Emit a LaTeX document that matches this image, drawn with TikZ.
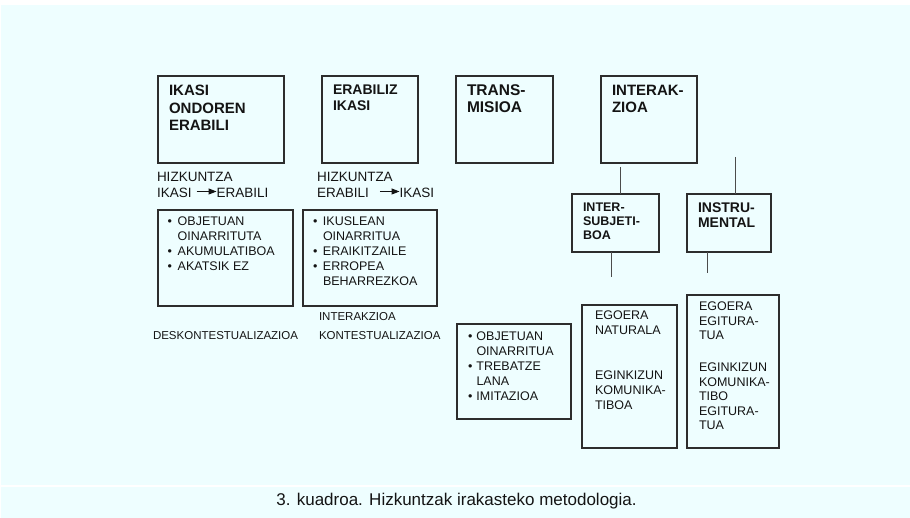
\documentclass[tikz,border=0pt]{standalone}
\usepackage{fontspec}
\setmainfont{Liberation Sans}
\usetikzlibrary{arrows.meta}
\definecolor{bgc}{RGB}{238,254,255}
\definecolor{lnc}{RGB}{45,45,45}
\definecolor{txc}{RGB}{20,20,20}
\newcommand{\bl}{\makebox[10pt][l]{•}}
\newcommand{\blb}{\makebox[8.5pt][l]{•}}
\newcommand{\ind}{\hspace*{10pt}}
\newcommand{\indb}{\hspace*{8.5pt}}
\begin{document}
\begin{tikzpicture}[x=1pt,y=-1pt,
  box/.style={draw=lnc,line width=1.1pt,anchor=north west,inner sep=0pt,outer sep=0pt},
  ttl/.style={anchor=north west,inner sep=0pt,outer sep=0pt,align=left,text=txc},
  lst/.style={anchor=north west,inner sep=0pt,outer sep=0pt,align=left,text=txc,font=\fontsize{12.5}{15}\selectfont},
  lbl/.style={anchor=base west,inner sep=0pt,outer sep=0pt,text=txc,font=\fontsize{13.5}{16}\selectfont},
  sml/.style={anchor=base west,inner sep=0pt,outer sep=0pt,text=txc,font=\fontsize{11.5}{14}\selectfont},
  conn/.style={draw=lnc!85,line width=1pt},
  arr/.style={draw=txc,line width=1pt,-{Triangle[length=8pt,width=6pt]}}]

\useasboundingbox (0,0) rectangle (910,518);
\fill[white] (0,0) rectangle (910,518);
\fill[bgc] (1,5) rectangle (910,518);
\draw[white,line width=1.2pt] (0,486) -- (910,486);

% top boxes
\node[box,minimum width=126pt,minimum height=87pt] (b1) at (158,76) {};
\node[box,minimum width=96pt,minimum height=87pt] (b2) at (322,76) {};
\node[box,minimum width=97pt,minimum height=87pt] (b3) at (456,76) {};
\node[box,minimum width=96pt,minimum height=87pt] (b4) at (601,76) {};

\node[ttl,font=\bfseries\fontsize{15}{17.4}\selectfont] (t1) at (169,85.3) {IKASI\\ONDOREN\\ERABILI};
\node[ttl,font=\bfseries\fontsize{14}{16}\selectfont] (t2) at (333,85) {ERABILIZ\\IKASI};
\node[ttl,font=\bfseries\fontsize{15.5}{17}\selectfont] (t3) at (467,85) {TRANS-\\MISIOA};
\node[ttl,font=\bfseries\fontsize{15}{17}\selectfont] (t4) at (612,85.3) {INTERAK-\\ZIOA};

% second level boxes
\node[box,minimum width=87pt,minimum height=58pt] (is) at (572,194) {};
\node[box,minimum width=84pt,minimum height=58pt] (in) at (687,194) {};
\node[ttl,font=\bfseries\fontsize{12.5}{14}\selectfont] (tis) at (583,203) {INTER-\\SUBJETI-\\BOA};
\node[ttl,font=\bfseries\fontsize{14}{15}\selectfont] (tin) at (698,203) {INSTRU-\\MENTAL};

% connectors
\coordinate (c1) at (620,167);
\coordinate (c2) at (735,157);
\coordinate (c3) at (611,277);
\coordinate (c4) at (707,273);
\draw[conn] (c1) -- (c1 |- is.north);
\draw[conn] (c2) -- (c2 |- in.north);
\draw[conn] (is.south -| c3) -- (c3);
\draw[conn] (in.south -| c4) -- (c4);

% labels with arrows
\node[lbl] (h1) at (157,182) {HIZKUNTZA};
\node[lbl] (h1a) at (157,198) {IKASI};
\node[lbl] (h1b) at (216.5,198) {ERABILI};
\draw[arr] ([shift={(5,-6.5)}]h1a.base east) -- ([shift={(0,-6.5)}]h1b.base west);

\node[lbl] (h2) at (317,182) {HIZKUNTZA};
\node[lbl] (h2a) at (317,198) {ERABILI};
\node[lbl] (h2b) at (399.5,198) {IKASI};
\draw[arr] ([shift={(11,-6.5)}]h2a.base east) -- ([shift={(0,-6.5)}]h2b.base west);

% list boxes
\node[box,minimum width=135pt,minimum height=96pt] (l1) at (158,210) {};
\node[box,minimum width=134pt,minimum height=96pt] (l2) at (303,210) {};
\node[box,minimum width=114pt,minimum height=95pt] (l3) at (457,324) {};
\node[box,minimum width=95pt,minimum height=143pt] (e1) at (582,305) {};
\node[box,minimum width=92pt,minimum height=153pt] (e2) at (687,295) {};

\node[lst] (tl1) at (167.7,217) {\bl OBJETUAN\\\ind OINARRITUTA\\\bl AKUMULATIBOA\\\bl AKATSIK EZ};
\node[lst] (tl2) at (313,217) {\bl IKUSLEAN\\\ind OINARRITUA\\\bl ERAIKITZAILE\\\bl ERROPEA\\\ind BEHARREZKOA};
\node[lst] (tl3) at (468,331.7) {\blb OBJETUAN\\\indb OINARRITUA\\\blb TREBATZE\\\indb LANA\\\blb IMITAZIOA};
\node[lst] (te1) at (595,311) {EGOERA\\NATURALA\\[30pt]EGINKIZUN\\KOMUNIKA-\\TIBOA};
\node[lst,font=\fontsize{12.5}{14.5}\selectfont] (te2) at (699,302) {EGOERA\\EGITURA-\\TUA\\[17.5pt]EGINKIZUN\\KOMUNIKA-\\TIBO\\EGITURA-\\TUA};

% small labels
\node[sml] (s1) at (153,340) {DESKONTESTUALIZAZIOA};
\node[sml] (s2) at (319,320.5) {INTERAKZIOA};
\node[sml] (s3) at (319,340) {KONTESTUALIZAZIOA};

% caption
\node[anchor=base,inner sep=0pt,text=txc,font=\fontsize{17}{20}\selectfont] (cap) at (456.5,505) {3. kuadroa. Hizkuntzak irakasteko metodologia.};
\end{tikzpicture}
\end{document}
